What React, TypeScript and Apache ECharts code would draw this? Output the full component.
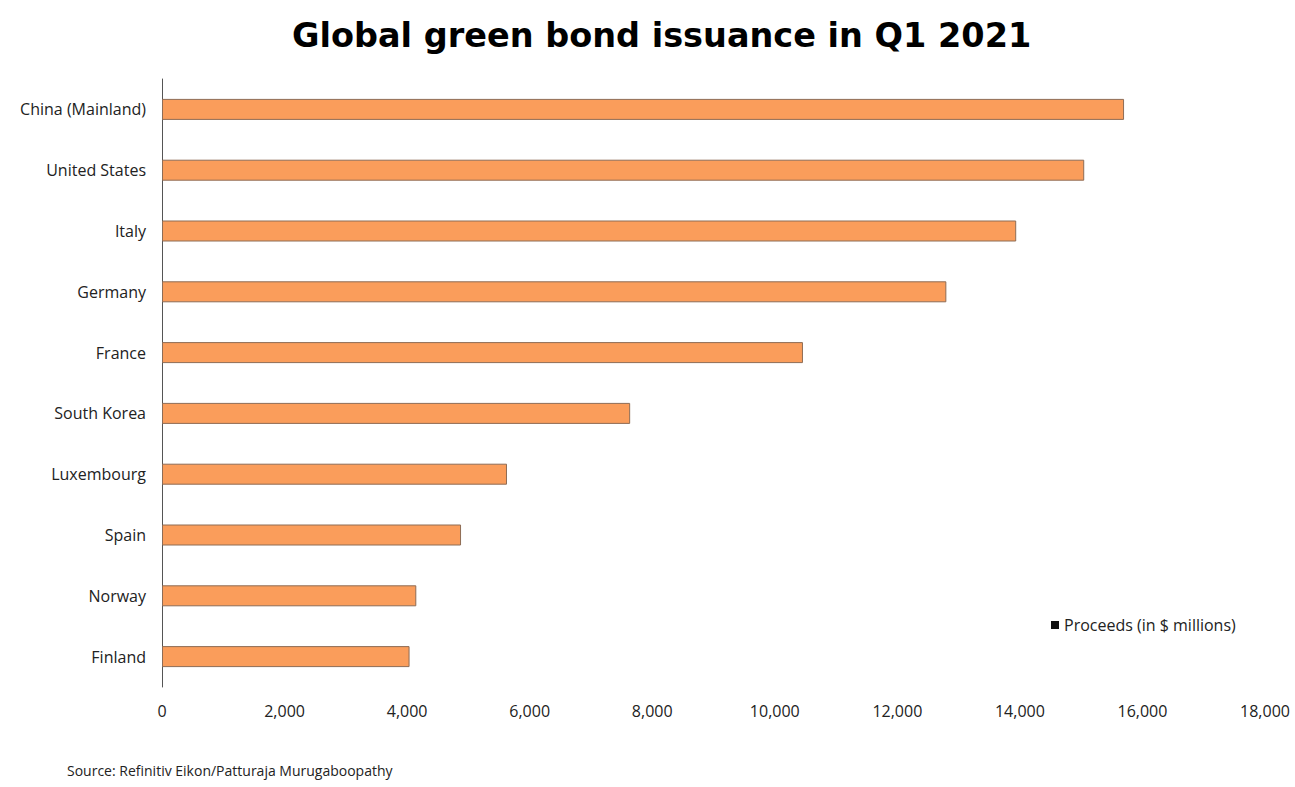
import React, { useEffect, useRef } from "react";
import * as echarts from "echarts";

const countries = [
  "China (Mainland)",
  "United States",
  "Italy",
  "Germany",
  "France",
  "South Korea",
  "Luxembourg",
  "Spain",
  "Norway",
  "Finland",
];
const proceeds = [15700, 15050, 13940, 12800, 10460, 7640, 5630, 4880, 4150, 4040];
const seriesName = "Proceeds (in $ millions)";
const titleText = "Global green bond issuance in Q1 2021";
const sourceText = "Source: Refinitiv Eikon/Patturaja Murugaboopathy";

export default function App() {
  const ref = useRef<HTMLDivElement>(null);
  useEffect(() => {
    if (!ref.current) return;
    const chart = echarts.init(ref.current, null, { renderer: "svg" });
    chart.setOption({
      animation: false,
      backgroundColor: "#ffffff",
      title: {
        text: titleText,
        left: 287,
        top: 13,
        textStyle: {
          fontFamily: "DejaVu Sans",
          fontWeight: "bold",
          fontSize: 33.5,
          color: "#000000",
        },
      },
      legend: {
        data: [seriesName],
        left: 1046,
        top: 612,
        icon: "rect",
        itemWidth: 8,
        itemHeight: 8,
        itemGap: 4,
        textStyle: { fontFamily: "Open Sans", fontSize: 16, color: "#222222" },
        itemStyle: { color: "#111111", borderWidth: 0 },
      },
      grid: { left: 162, right: 30, top: 79, bottom: 100, containLabel: false },
      xAxis: {
        type: "value",
        min: 0,
        max: 18000,
        interval: 2000,
        splitLine: { show: false },
        axisLine: { show: false },
        axisTick: { show: false },
        axisLabel: {
          margin: 16,
          fontFamily: "Open Sans",
          fontSize: 16,
          color: "#222222",
          formatter: (v: number) => v.toLocaleString("en-US"),
        },
      },
      yAxis: {
        type: "category",
        data: countries,
        inverse: true,
        axisLine: { show: true, lineStyle: { color: "#555555", width: 1 } },
        axisTick: { show: false },
        axisLabel: {
          margin: 16,
          fontFamily: "Open Sans",
          fontSize: 16,
          color: "#222222",
        },
      },
      series: [
        {
          name: seriesName,
          type: "bar",
          data: proceeds,
          barWidth: 21,
          itemStyle: { color: "#FA9D5B", borderColor: "#8E6C55", borderWidth: 1 },
        },
      ],
      graphic: [
        {
          type: "text",
          left: 67,
          top: 763,
          style: {
            text: sourceText,
            fontFamily: "Open Sans",
            fontSize: 14,
            fill: "#222222",
          },
        },
      ],
    });
    return () => chart.dispose();
  }, []);
  return (
    <div
      ref={ref}
      style={{ position: "absolute", left: 0, top: 0, width: 1295, height: 787 }}
    />
  );
}
